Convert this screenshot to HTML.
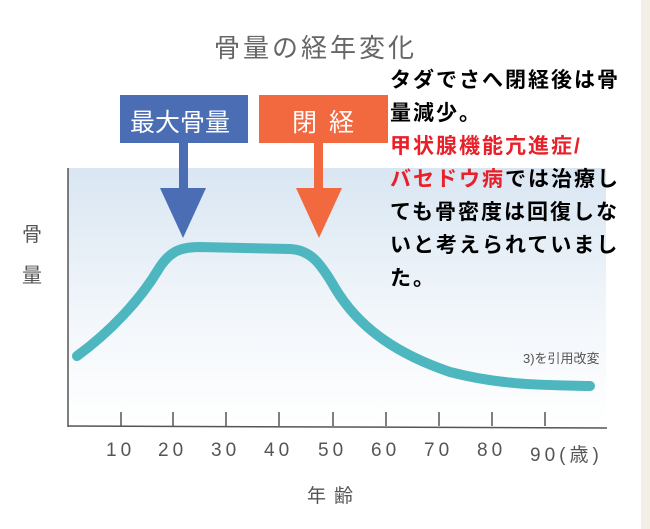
<!DOCTYPE html>
<html><head><meta charset="utf-8"><style>
body{margin:0;width:650px;height:529px;background:#fff;overflow:hidden;position:relative;font-family:"Liberation Sans","Noto Sans CJK JP",sans-serif}
.t{position:absolute;white-space:nowrap}
.n span{position:absolute;letter-spacing:4px}
</style></head><body>
<svg width="650" height="529" style="position:absolute;left:0;top:0">
<defs><linearGradient id="g" x1="0" y1="0" x2="0" y2="1">
<stop offset="0" stop-color="#d9e6f2"/><stop offset="0.6" stop-color="#f3f7fb"/><stop offset="1" stop-color="#fff"/></linearGradient></defs>
<rect x="68" y="168" width="538" height="258" fill="url(#g)"/>
<rect x="641" y="0" width="9" height="529" fill="#f4efe6"/>
<line x1="68" y1="168" x2="68" y2="427" stroke="#555" stroke-width="1.5"/>
<line x1="68" y1="426" x2="607" y2="428" stroke="#555" stroke-width="1.5"/>
<g stroke="#555" stroke-width="1.5">
<line x1="121" y1="412" x2="121" y2="426"/><line x1="173" y1="412" x2="173" y2="426"/><line x1="226" y1="412" x2="226" y2="426"/><line x1="279" y1="412" x2="279" y2="426"/><line x1="333" y1="412" x2="333" y2="426"/><line x1="386" y1="412" x2="386" y2="426"/><line x1="439" y1="412" x2="439" y2="426"/><line x1="492" y1="412" x2="492" y2="426"/><line x1="545" y1="412" x2="545" y2="426"/>
</g>
<path d="M77,356 C110,332 140,300 158,270 C170,250 182,247 200,247 L290,249 C310,250 320,262 335,288 C360,330 400,355 450,372 C500,385 540,385 590,386" fill="none" stroke="#4db6be" stroke-width="10" stroke-linecap="round"/>
<rect x="120" y="95" width="128" height="48" fill="#4a6db3"/>
<rect x="179" y="143" width="9" height="48" fill="#4a6db3"/>
<polygon points="160,188 206,188 183,238" fill="#4a6db3"/>
<rect x="259" y="95" width="129" height="48" fill="#f2683f"/>
<rect x="314" y="143" width="9" height="48" fill="#f2683f"/>
<polygon points="296,188 342,188 319,238" fill="#f2683f"/>
</svg>
<div class="t" style="left:214px;top:28px;font-size:26px;color:#666;letter-spacing:3px">骨量の経年変化</div>
<div class="t" style="left:130px;top:103px;font-size:25px;color:#fff">最大骨量</div>
<div class="t" style="left:292px;top:103px;font-size:25px;color:#fff;letter-spacing:12px">閉経</div>
<div class="t" style="left:22px;top:218px;font-size:20px;color:#555">骨</div>
<div class="t" style="left:22px;top:259px;font-size:20px;color:#555">量</div>
<div class="t" style="left:390px;top:64px;font-size:21px;line-height:33px;font-weight:bold;color:#000;letter-spacing:2px">タダでさへ閉経後は骨<br>量減少。<br><span style="color:#e8202a">甲状腺機能亢進症/<br>バセドウ病</span>では治療し<br>ても骨密度は回復しな<br>いと考えられていまし<br>た。</div>
<div class="t" style="left:523px;top:348px;font-size:13px;color:#555">3)を引用改変</div>
<div class="t n" style="left:0;top:440px;font-size:19px;color:#555;width:650px">
<span style="left:106px">10</span><span style="left:158px">20</span><span style="left:211px">30</span><span style="left:264px">40</span><span style="left:318px">50</span><span style="left:371px">60</span><span style="left:424px">70</span><span style="left:477px">80</span><span style="left:530px">90(歳)</span></div>
<div class="t" style="left:307px;top:481px;font-size:19px;color:#555;letter-spacing:8px">年齢</div>
</body></html>
